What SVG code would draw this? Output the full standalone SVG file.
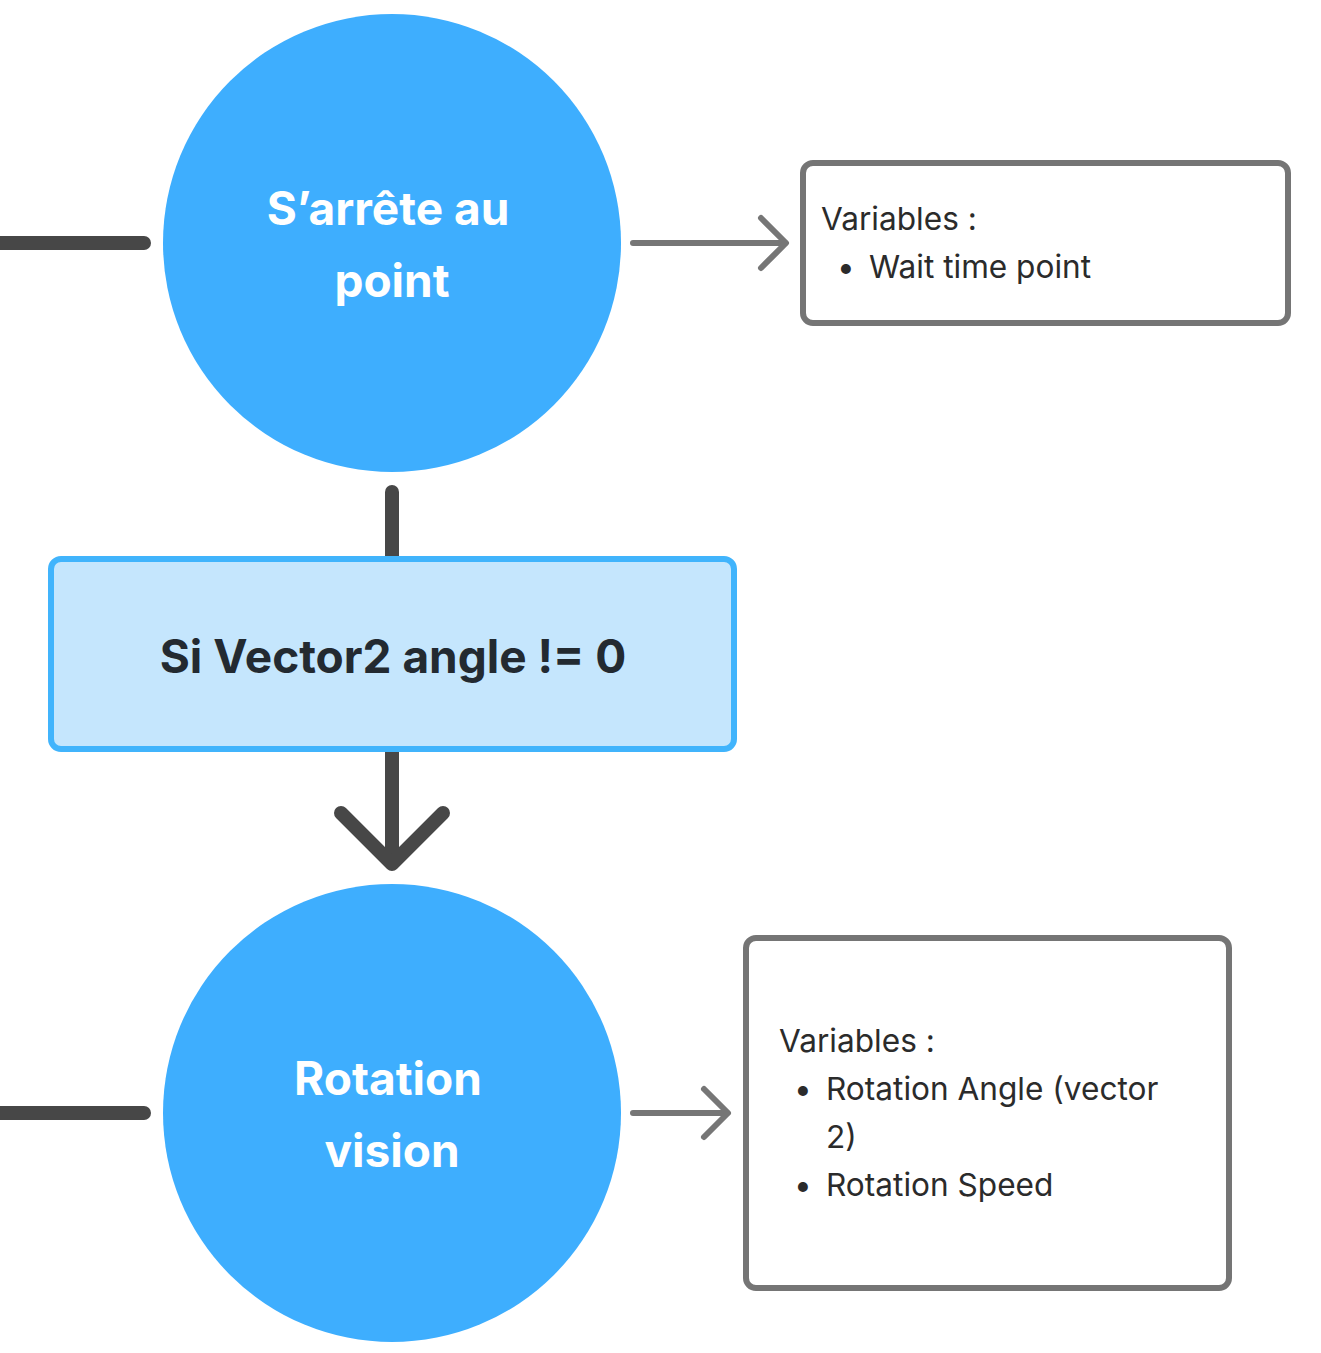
<svg xmlns="http://www.w3.org/2000/svg" width="1321" height="1353" viewBox="0 0 1321 1353">
<style>
.circ{fill:#3eaefe}
.ct{font-family:Inter,"Noto Sans",sans-serif;font-weight:700;font-size:46px;fill:#ffffff;text-anchor:middle}
.dt{font-family:Inter,"Noto Sans",sans-serif;font-weight:700;font-size:46px;fill:#232a31;text-anchor:middle}
.vt{font-family:Inter,"Noto Sans",sans-serif;font-size:31.6px;fill:#2b2b2b}
.vbox{fill:#ffffff;stroke:#757575;stroke-width:6}
.dark{stroke:#474747;stroke-width:14;stroke-linecap:round;stroke-linejoin:round;fill:none}
.gray{stroke:#767676;stroke-width:6;stroke-linecap:round;stroke-linejoin:round;fill:none}
</style>
<rect width="1321" height="1353" fill="#ffffff"/>
<g id="connectors">
<line class="dark" x1="-10" y1="243" x2="144" y2="243"/>
<line class="dark" x1="-10" y1="1113" x2="144" y2="1113"/>
<line class="dark" x1="392" y1="492" x2="392" y2="560"/>
<line class="dark" x1="392" y1="750" x2="392" y2="862"/>
<polyline class="dark" points="341,813 392,864 443,813"/>
<line class="gray" x1="633" y1="243" x2="785" y2="243"/>
<polyline class="gray" points="761,218 786,243 761,268"/>
<line class="gray" x1="633" y1="1113" x2="727" y2="1113"/>
<polyline class="gray" points="704,1089 728,1113 704,1137"/>
</g>
<g id="node-arrete">
<circle class="circ" cx="392" cy="243" r="229"/>
<text class="ct" x="388" y="225">S’arrête au</text>
<text class="ct" x="392" y="297">point</text>
</g>
<g id="vars-1">
<rect class="vbox" x="803" y="163" width="485" height="160" rx="10"/>
<text class="vt" x="821" y="230">Variables :</text>
<text class="vt" x="837" y="278">•</text>
<text class="vt" x="869" y="278">Wait time point</text>
</g>
<g id="node-decision">
<rect x="51" y="559" width="683" height="190" rx="10" fill="#c5e6fd" stroke="#41b4fc" stroke-width="6"/>
<text class="dt" x="393" y="673">Si Vector2 angle != 0</text>
</g>
<g id="node-rotation">
<circle class="circ" cx="392" cy="1113" r="229"/>
<text class="ct" x="388" y="1095">Rotation</text>
<text class="ct" x="392" y="1167">vision</text>
</g>
<g id="vars-2">
<rect class="vbox" x="746" y="938" width="483" height="350" rx="10"/>
<text class="vt" x="779" y="1052">Variables :</text>
<text class="vt" x="794" y="1100">•</text>
<text class="vt" x="826" y="1100">Rotation Angle (vector</text>
<text class="vt" x="826" y="1148">2)</text>
<text class="vt" x="794" y="1196">•</text>
<text class="vt" x="826" y="1196">Rotation Speed</text>
</g>
</svg>
